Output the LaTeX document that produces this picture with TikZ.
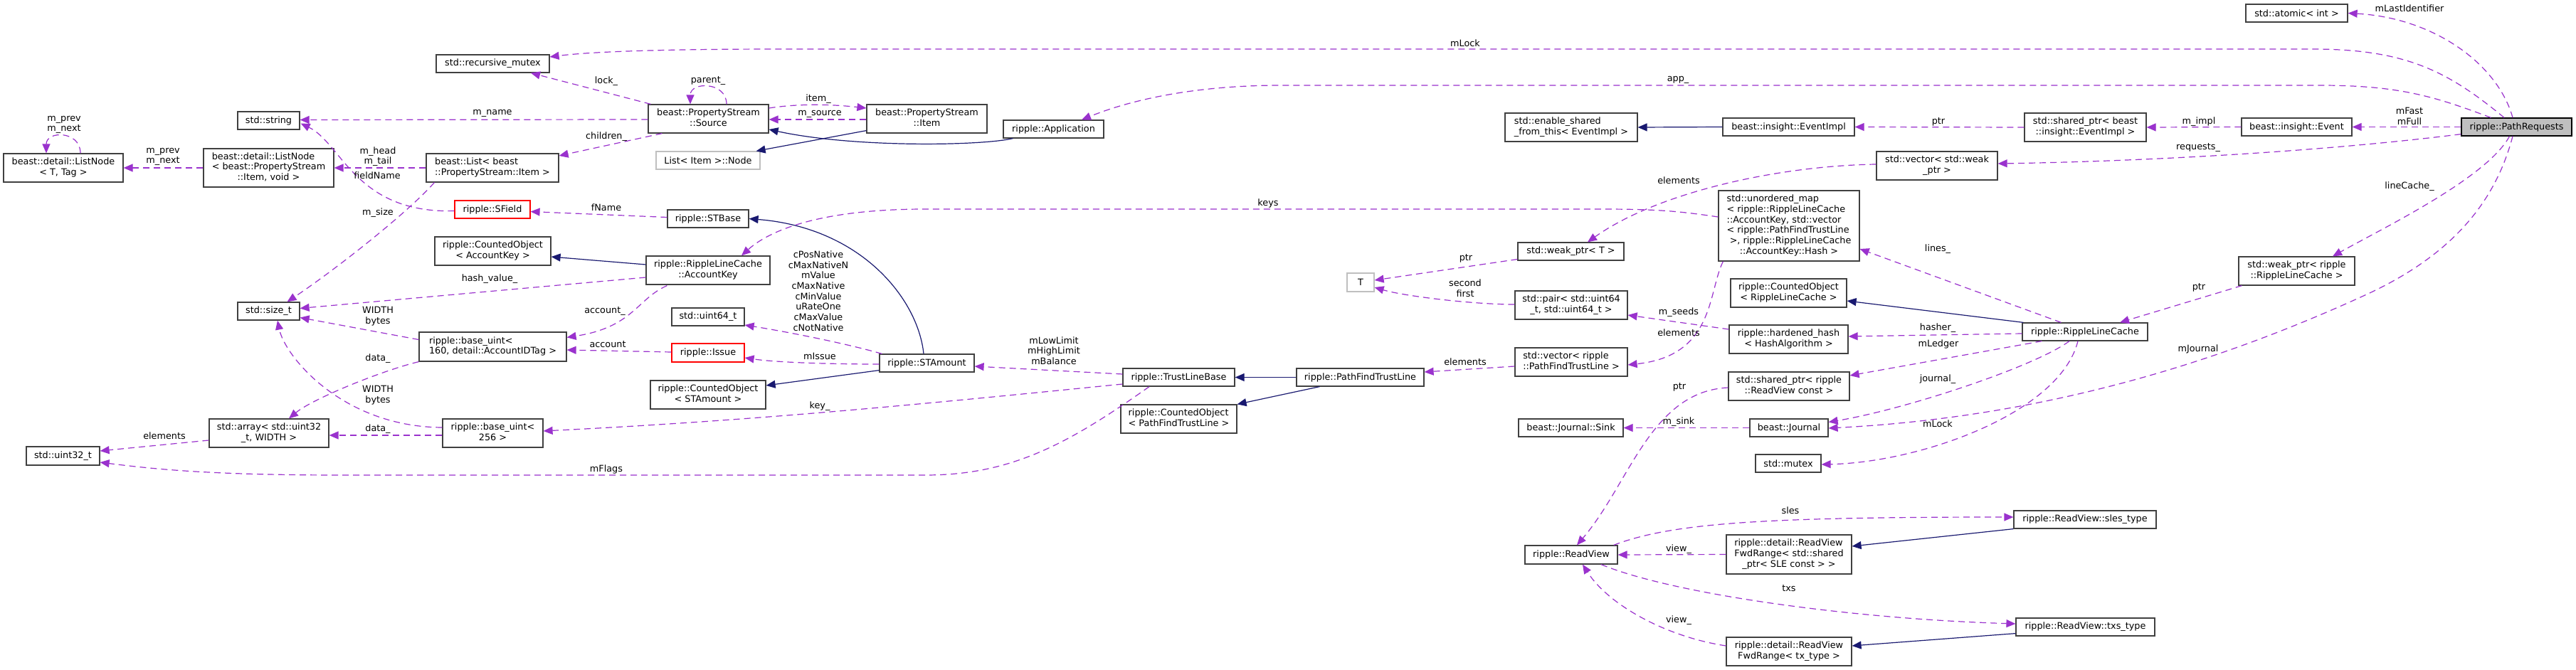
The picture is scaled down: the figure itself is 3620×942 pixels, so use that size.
\documentclass[tikz,border=0pt]{standalone}
\usepackage{fontspec}
\setmainfont{DejaVu Sans}
\usetikzlibrary{arrows.meta,calc}
\definecolor{memc}{HTML}{9A32CD}
\definecolor{inhc}{HTML}{191970}
\definecolor{bord}{HTML}{404040}
\definecolor{graybord}{HTML}{BFBFBF}
\definecolor{prfill}{HTML}{BFBFBF}
\newcommand\fs{\fontsize{12.8}{14.7}\selectfont}
\newcommand\ml[2]{\begin{tabular}{@{}l@{}}#1\\\multicolumn{1}{@{}c@{}}{#2}\end{tabular}}
\tikzset{
  cls/.style={draw=bord, line width=1.2pt, inner sep=0pt, font=\fs, text=black, align=center},
  redcls/.style={cls, draw=red},
  grycls/.style={cls, draw=graybord},
  lbl/.style={font=\fs, inner sep=0pt, align=center, text=black},
  memb/.style={draw=memc, line width=1.2pt, dash pattern=on 9pt off 6pt, -{Triangle[length=13pt,width=11pt]}},
  inh/.style={draw=inhc, line width=1.2pt, -{Triangle[length=13pt,width=11pt]}}
}
\begin{document}
\begin{tikzpicture}[x=1pt,y=-1pt]
\fill[white] (0,0) rectangle (3620,942);
\useasboundingbox (0,0) rectangle (3620,942);

% ---------- nodes ----------
\node[cls,minimum width=168pt,minimum height=40pt] (lnT) at (89,236) {\ml{beast::detail::ListNode}{< T, Tag >}};
\node[cls,minimum width=183pt,minimum height=54pt] (lnI) at (377.5,236) {\ml{beast::detail::ListNode\\< beast::PropertyStream}{::Item, void >}};
\node[cls,minimum width=87pt,minimum height=25pt] (str) at (377.5,169.5) {std::string};
\node[cls,minimum width=87pt,minimum height=25pt] (szt) at (377.5,437.5) {std::size\_t};
\node[cls,minimum width=168pt,minimum height=40pt] (arr) at (378,609) {\ml{std::array< std::uint32}{\_t, WIDTH >}};
\node[cls,minimum width=103pt,minimum height=26pt] (u32) at (88.5,641) {std::uint32\_t};
\node[cls,minimum width=159pt,minimum height=25pt] (rmx) at (692.5,89.5) {std::recursive\_mutex};
\node[cls,minimum width=186pt,minimum height=40pt] (lst) at (692,236) {\ml{beast::List< beast}{::PropertyStream::Item >}};
\node[redcls,minimum width=106pt,minimum height=25pt] (sfd) at (692,294.5) {ripple::SField};
\node[cls,minimum width=163pt,minimum height=40pt] (coAK) at (692.5,353) {\ml{ripple::CountedObject}{< AccountKey >}};
\node[cls,minimum width=207pt,minimum height=41pt] (bu160) at (692.5,487.5) {\ml{ripple::base\_uint<}{160, detail::AccountIDTag >}};
\node[cls,minimum width=141pt,minimum height=40pt] (bu256) at (692.5,609) {\ml{ripple::base\_uint<}{256 >}};
\node[cls,minimum width=169pt,minimum height=40pt] (src) at (995.5,167) {\ml{beast::PropertyStream}{::Source}};
\node[grycls,minimum width=146pt,minimum height=25pt] (lnode) at (995,225.5) {List< Item >::Node};
\node[cls,minimum width=114pt,minimum height=25pt] (stb) at (995,307.5) {ripple::STBase};
\node[cls,minimum width=174pt,minimum height=40pt] (ak) at (995,380) {\ml{ripple::RippleLineCache}{::AccountKey}};
\node[cls,minimum width=102pt,minimum height=25pt] (u64) at (995,445.5) {std::uint64\_t};
\node[redcls,minimum width=102pt,minimum height=26pt] (iss) at (995,496) {ripple::Issue};
\node[cls,minimum width=162pt,minimum height=40pt] (coSTA) at (995,555) {\ml{ripple::CountedObject}{< STAmount >}};
\node[cls,minimum width=169pt,minimum height=40pt] (itm) at (1302.5,167) {\ml{beast::PropertyStream}{::Item}};
\node[cls,minimum width=133pt,minimum height=25pt] (sta) at (1302.5,510.5) {ripple::STAmount};
\node[cls,minimum width=141pt,minimum height=25pt] (app) at (1480.5,181.5) {ripple::Application};
\node[cls,minimum width=157pt,minimum height=25pt] (tlb) at (1656.5,530.5) {ripple::TrustLineBase};
\node[cls,minimum width=163pt,minimum height=40pt] (coPF) at (1656.5,589) {\ml{ripple::CountedObject}{< PathFindTrustLine >}};
\node[cls,minimum width=179pt,minimum height=25pt] (pftl) at (1911.5,530.5) {ripple::PathFindTrustLine};
\node[grycls,minimum width=38pt,minimum height=26pt] (tT) at (1912,397) {T};
\node[cls,minimum width=186pt,minimum height=40pt] (esft) at (2208,179) {\ml{std::enable\_shared}{\_from\_this< EventImpl >}};
\node[cls,minimum width=149pt,minimum height=25pt] (wpT) at (2207.5,353.5) {std::weak\_ptr< T >};
\node[cls,minimum width=158pt,minimum height=40pt] (pair) at (2208,429) {\ml{std::pair< std::uint64}{\_t, std::uint64\_t >}};
\node[cls,minimum width=158pt,minimum height=40pt] (vpf) at (2208,509) {\ml{std::vector< ripple}{::PathFindTrustLine >}};
\node[cls,minimum width=147pt,minimum height=25pt] (sink) at (2207.5,601.5) {beast::Journal::Sink};
\node[cls,minimum width=130pt,minimum height=26pt] (rv) at (2208,780) {ripple::ReadView};
\node[cls,minimum width=185pt,minimum height=25pt] (evi) at (2513.5,178.5) {beast::insight::EventImpl};
\node[cls,minimum width=198pt,minimum height=99pt] (umap) at (2514,317.5) {\ml{std::unordered\_map\\< ripple::RippleLineCache\\::AccountKey, std::vector\\< ripple::PathFindTrustLine\\\ >, ripple::RippleLineCache}{::AccountKey::Hash >}};
\node[cls,minimum width=163pt,minimum height=40pt] (coRLC) at (2513.5,412) {\ml{ripple::CountedObject}{< RippleLineCache >}};
\node[cls,minimum width=167pt,minimum height=40pt] (hh) at (2513.5,477) {\ml{ripple::hardened\_hash}{< HashAlgorithm >}};
\node[cls,minimum width=170pt,minimum height=40pt] (sprv) at (2514,543) {\ml{std::shared\_ptr< ripple}{::ReadView const >}};
\node[cls,minimum width=110pt,minimum height=25pt] (jrn) at (2514,601.5) {beast::Journal};
\node[cls,minimum width=92pt,minimum height=25pt] (mtx) at (2513,651.5) {std::mutex};
\node[cls,minimum width=176pt,minimum height=55pt] (frs) at (2514,779.5) {\ml{ripple::detail::ReadView\\FwdRange< std::shared}{\_ptr< SLE const > >}};
\node[cls,minimum width=176pt,minimum height=40pt] (frt) at (2514,916) {\ml{ripple::detail::ReadView}{FwdRange< tx\_type >}};
\node[cls,minimum width=170pt,minimum height=40pt] (vwp) at (2722,233) {\ml{std::vector< std::weak}{\_ptr >}};
\node[cls,minimum width=171pt,minimum height=40pt] (spev) at (2930.5,179) {\ml{std::shared\_ptr< beast}{::insight::EventImpl >}};
\node[cls,minimum width=176pt,minimum height=25pt] (rlc) at (2930,466.5) {ripple::RippleLineCache};
\node[cls,minimum width=200pt,minimum height=25pt] (sles) at (2930,730.5) {ripple::ReadView::sles\_type};
\node[cls,minimum width=195pt,minimum height=25pt] (txs) at (2930.5,881.5) {ripple::ReadView::txs\_type};
\node[cls,minimum width=143pt,minimum height=25pt] (atm) at (3227.5,18.5) {std::atomic< int >};
\node[cls,minimum width=155pt,minimum height=25pt] (evt) at (3227.5,178.5) {beast::insight::Event};
\node[cls,minimum width=163pt,minimum height=40pt] (wprlc) at (3227.5,381) {\ml{std::weak\_ptr< ripple}{::RippleLineCache >}};
\node[cls,fill=prfill,draw=black,minimum width=155pt,minimum height=25pt] (pr) at (3536.5,178.5) {ripple::PathRequests};

% ---------- connectors ----------
\draw[memb] ($(lnT.north)+(24,0)$) .. controls +(0,-32) and +(0,-32) .. ($(lnT.north)+(-24,0)$);
\draw[memb] (lnI.west) -- (lnT.east);
\draw[memb] ($(src.west)+(0,1)$) -- ($(str.east)+(0,-1)$);
\draw[memb] ($(sfd.west)+(0,2)$) .. controls +(-139,4) and +(58,28) .. ($(str.east)+(1,4)$);
\draw[memb] (lst.west) -- (lnI.east);
\draw[memb] ($(lst.south west)+(12,0)$) .. controls (572,300) and (470,380) .. ($(szt.north)+(26,0)$);
\draw[memb] ($(ak.west)+(0,10)$) -- ($(szt.east)+(0,-4)$);
\draw[memb] ($(bu160.west)+(0,-10)$) -- ($(szt.east)+(0,9)$);
\draw[memb] (bu160.south west) .. controls (540,520) and (440,560) .. ($(arr.north)+(28,0)$);
\draw[memb] ($(bu256.west)+(0,-8)$) .. controls (480,600) and (400,500) .. ($(szt.south)+(12.5,0)$);
\draw[memb] ($(bu256.west)+(0,3)$) -- ($(arr.east)+(0,3)$);
\draw[memb] ($(arr.west)+(0,10)$) -- ($(u32.east)+(0,-7)$);
\draw[memb] ($(tlb.south)+(-41.5,0)$) .. controls (1500,625) and (1420,668) .. (1300,668) -- (480,668) .. controls (300,668) and (220,660) .. ($(u32.east)+(0,9)$);
\draw[memb] ($(pr.north)+(-17.5,0)$) .. controls (3440,100) and (3380,69) .. (3250,69) -- (1100,69) .. controls (900,69) and (820,74) .. ($(rmx.east)+(0,-9.5)$);
\draw[memb] ($(src.north west)+(4,0)$) -- ($(rmx.south)+(53.5,0)$);
\draw[memb] ($(src.north)+(25.5,0)$) .. controls +(0,-32) and +(0,-32) .. ($(src.north)+(-25.5,0)$);
\draw[memb] ($(src.east)+(0,-15)$) .. controls +(45,-7) and +(-45,-5) .. ($(itm.west)+(0,-15)$);
\draw[memb] ($(itm.west)+(0,1)$) -- ($(src.east)+(0,1)$);
\draw[memb] ($(src.south west)+(20,0)$) -- ($(lst.east)+(0,-17)$);
\draw[inh] ($(itm.south west)+(0,-4)$) -- ($(lnode.north east)+(-6,0)$);
\draw[inh] ($(app.south west)+(14,0)$) .. controls (1380,205) and (1200,208) .. ($(src.east)+(0,15)$);
\draw[memb] ($(stb.west)+(0,-2)$) -- ($(sfd.east)+(0,3)$);
\draw[inh] ($(sta.north)+(-4.5,0)$) .. controls (1290,420) and (1210,320) .. (stb.east);
\draw[memb] ($(umap.west)+(0,-12.5)$) .. controls (2360,297) and (2330,294) .. (2250,294) -- (1300,294) .. controls (1150,294) and (1080,325) .. ($(ak.north)+(47,0)$);
\draw[inh] ($(ak.west)+(0,-8)$) -- ($(coAK.east)+(0,8)$);
\draw[memb] ($(ak.south west)+(30,1)$) .. controls (895,420) and (890,460) .. ($(bu160.north east)+(0,8)$);
\draw[memb] ($(sta.north west)+(4,0)$) .. controls +(-60,-17) and +(50,8) .. ($(u64.east)+(0,11.5)$);
\draw[memb] ($(iss.west)+(0,-1)$) -- ($(bu160.east)+(0,4.5)$);
\draw[memb] ($(sta.west)+(0,1.5)$) .. controls +(-80,0) and +(40,6) .. ($(iss.east)+(0,7)$);
\draw[inh] ($(sta.south west)+(0,-3)$) -- ($(coSTA.east)+(0,-13)$);
\draw[memb] ($(tlb.west)+(0,-4.5)$) -- ($(sta.east)+(0,4.5)$);
\draw[memb] ($(tlb.west)+(0,9.5)$) .. controls +(-300,30) and +(300,-15) .. ($(bu256.east)+(0,-3)$);
\draw[memb] ($(pr.north west)+(42,0)$) .. controls (3420,135) and (3370,120) .. (3260,120) -- (1800,120) .. controls (1680,120) and (1590,140) .. ($(app.north)+(39.5,0)$);
\draw[inh] (pftl.west) -- (tlb.east);
\draw[inh] ($(pftl.south west)+(33,0)$) -- (coPF.north east);
\draw[memb] ($(vpf.west)+(0,6)$) -- ($(pftl.east)+(0,-7.5)$);
\draw[memb] ($(wpT.west)+(0,11)$) -- ($(tT.east)+(0,-3)$);
\draw[memb] ($(pair.west)+(0,-1)$) .. controls +(-60,0) and +(40,12) .. ($(tT.east)+(0,7)$);
\draw[inh] (evi.west) -- (esft.east);
\draw[memb] (spev.west) -- (evi.east);
\draw[memb] ($(vwp.west)+(0,-2)$) .. controls (2500,233) and (2330,270) .. ($(wpT.north)+(23.5,0)$);
\draw[memb] ($(hh.west)+(0,-14)$) -- ($(pair.east)+(0,14)$);
\draw[memb] ($(umap.south west)+(7,0)$) .. controls (2400,410) and (2410,500) .. ($(vpf.east)+(0,4)$);
\draw[memb] ($(rlc.north west)+(55,0)$) -- ($(umap.east)+(0,32.5)$);
\draw[inh] ($(rlc.north west)+(2,0)$) -- ($(coRLC.east)+(0,11)$);
\draw[memb] ($(rlc.west)+(0,2.5)$) -- ($(hh.east)+(0,-4)$);
\draw[memb] ($(rlc.south west)+(28,0)$) -- ($(sprv.east)+(0,-15)$);
\draw[memb] ($(sprv.west)+(0,2)$) .. controls (2320,550) and (2290,680) .. ($(rv.north)+(8,0)$);
\draw[memb] (jrn.west) -- (sink.east);
\draw[memb] ($(rlc.south)+(-22,0)$) .. controls (2860,515) and (2680,575) .. ($(jrn.east)+(0,-8)$);
\draw[memb] ($(pr.south)+(-5.5,0)$) .. controls (3505,290) and (3440,360) .. (3330,412) .. controls (3150,495) and (2900,585) .. ($(jrn.east)+(0,0.5)$);
\draw[memb] ($(rlc.south)+(-10,0)$) .. controls (2895,580) and (2700,650) .. ($(mtx.east)+(0,1.5)$);
\draw[memb] ($(rv.north east)+(-6,0)$) .. controls (2350,735) and (2480,727) .. ($(sles.west)+(0,-3.5)$);
\draw[memb] (frs.west) -- (rv.east);
\draw[inh] (sles.south west) -- ($(frs.east)+(0,-11.5)$);
\draw[memb] ($(rv.south)+(42,0)$) .. controls (2350,835) and (2600,870) .. ($(txs.west)+(0,-4.5)$);
\draw[memb] ($(frt.west)+(0,-8)$) .. controls (2340,895) and (2260,850) .. ($(rv.south)+(16,0)$);
\draw[inh] ($(txs.south west)+(0,-4)$) -- ($(frt.east)+(0,-8)$);
\draw[memb] ($(pr.north)+(-5.5,0)$) .. controls (3510,90) and (3420,25) .. (atm.east);
\draw[memb] (evt.west) -- (spev.east);
\draw[memb] (pr.west) -- (evt.east);
\draw[memb] ($(pr.south west)+(0,-3)$) .. controls +(-200,25) and +(200,-3) .. ($(vwp.east)+(0,-3)$);
\draw[memb] ($(pr.south)+(-10,0)$) .. controls (3495,250) and (3350,320) .. ($(wprlc.north)+(50.5,0)$);
\draw[memb] ($(wprlc.south west)+(5,0)$) -- ($(rlc.north)+(49,0)$);

% ---------- labels ----------
\node[lbl] (t01) at (90,175.5) {m\_prev\\m\_next};
\node[lbl] (t02) at (229,220.5) {m\_prev\\m\_next};
\node[lbl] (t03) at (692,159) {m\_name};
\node[lbl] (t04) at (530,247) {fieldName};
\node[lbl] (t05) at (531,220) {m\_head\\m\_tail};
\node[lbl] (t06) at (531,299) {m\_size};
\node[lbl] (t07) at (688,392) {hash\_value\_};
\node[lbl] (t08) at (531,445) {WIDTH\\bytes};
\node[lbl] (t09) at (531,504) {data\_};
\node[lbl] (t10) at (531,555.5) {WIDTH\\bytes};
\node[lbl] (t11) at (531,603) {data\_};
\node[lbl] (t12) at (231,613) {elements};
\node[lbl] (t13) at (852,660) {mFlags};
\node[lbl] (t14) at (2059,61) {mLock};
\node[lbl] (t15) at (852,114) {lock\_};
\node[lbl] (t16) at (995,114) {parent\_};
\node[lbl] (t17) at (1150,139) {item\_};
\node[lbl] (t18) at (1152,160) {m\_source};
\node[lbl] (t19) at (852,192) {children\_};
\node[lbl] (t20) at (852,292) {fName};
\node[lbl] (t21) at (1782,286) {keys};
\node[lbl] (t22) at (850,438) {account\_};
\node[lbl] (t23) at (1150,409) {cPosNative\\cMaxNativeN\\mValue\\cMaxNative\\cMinValue\\uRateOne\\cMaxValue\\cNotNative};
\node[lbl] (t24) at (854,484) {account};
\node[lbl] (t25) at (1152,501) {mIssue};
\node[lbl] (t26) at (1481,493) {mLowLimit\\mHighLimit\\mBalance};
\node[lbl] (t27) at (1152,571) {key\_};
\node[lbl] (t28) at (2358,112) {app\_};
\node[lbl] (t29) at (2059,509) {elements};
\node[lbl] (t30) at (2060,363) {ptr};
\node[lbl] (t31) at (2059,405.5) {second\\first};
\node[lbl] (t32) at (2724,171) {ptr};
\node[lbl] (t33) at (2359,254) {elements};
\node[lbl] (t34) at (2359,439) {m\_seeds};
\node[lbl] (t35) at (2359,468) {elements};
\node[lbl] (t36) at (2723,350) {lines\_};
\node[lbl] (t37) at (2723,461) {hasher\_};
\node[lbl] (t38) at (2724,484) {mLedger};
\node[lbl] (t39) at (2360,544) {ptr};
\node[lbl] (t40) at (2359,593) {m\_sink};
\node[lbl] (t41) at (2723,533) {journal\_};
\node[lbl] (t42) at (2723,596) {mLock};
\node[lbl] (t43) at (3089,491) {mJournal};
\node[lbl] (t44) at (2516,718) {sles};
\node[lbl] (t45) at (2359,772) {view\_};
\node[lbl] (t46) at (2514,827) {txs};
\node[lbl] (t47) at (2359,872) {view\_};
\node[lbl] (t48) at (3386,12) {mLastIdentifier};
\node[lbl] (t49) at (3090,171) {m\_impl};
\node[lbl] (t50) at (3386,163.5) {mFast\\mFull};
\node[lbl] (t51) at (3089,208) {requests\_};
\node[lbl] (t52) at (3386,262) {lineCache\_};
\node[lbl] (t53) at (3090,404) {ptr};
\end{tikzpicture}
\end{document}
